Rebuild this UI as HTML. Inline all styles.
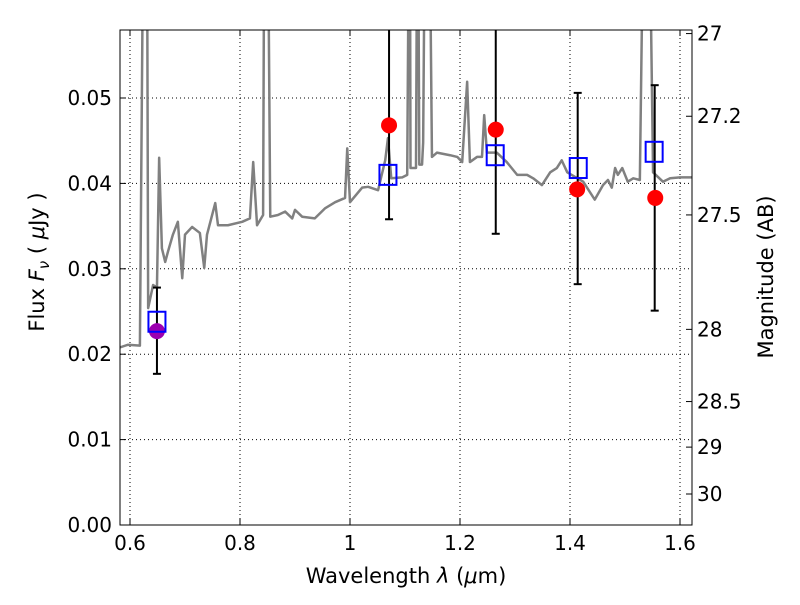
<!DOCTYPE html>
<html><head><meta charset="utf-8"><style>
body{margin:0;background:#fff;}
svg text{font-family:"DejaVu Sans","Liberation Sans",sans-serif;fill:#000;}
</style></head><body>
<svg id="chart" width="800" height="600" xmlns="http://www.w3.org/2000/svg">
<rect width="800" height="600" fill="#fff"/>
<defs><clipPath id="clip"><rect x="120" y="30" width="572" height="495"/></clipPath></defs>
<g id="grid"></g>
<g id="spec" clip-path="url(#clip)"></g>
<g id="marks" clip-path="url(#clip)"></g>
<rect x="120" y="30" width="572" height="495" fill="none" stroke="#000" stroke-width="1"/>
<g id="axes"></g>
<text x="406" y="583" font-size="21" text-anchor="middle">Wavelength  <tspan font-style="italic">λ</tspan> (<tspan font-style="italic">μ</tspan>m)</text>
<text transform="translate(44,262) rotate(-90)" font-size="21" text-anchor="middle">Flux  <tspan font-style="italic">F</tspan><tspan font-style="italic" font-size="15" dy="5">ν</tspan><tspan dy="-5">  (  </tspan><tspan font-style="italic">μ</tspan>Jy )</text>
<text transform="translate(773,277) rotate(-90)" font-size="21" text-anchor="middle">Magnitude (AB)</text>
</svg>
<script>
const xTicks=[0.6,0.8,1.0,1.2,1.4,1.6];
const xTickLabels=["0.6","0.8","1","1.2","1.4","1.6"];
const yTicks=[0,0.01,0.02,0.03,0.04,0.05];
const yTickLabels=["0.00","0.01","0.02","0.03","0.04","0.05"];
const magTicks=[27,27.2,27.5,28,28.5,29,30];
const magTickLabels=["27","27.2","27.5","28","28.5","29","30"];
const specLam=[0.582,0.596,0.618,0.624,0.631,0.633,0.642,0.649,0.653,0.658,0.664,0.669,0.678,0.687,0.695,0.700,0.713,0.727,0.735,0.740,0.755,0.760,0.778,0.804,0.818,0.824,0.831,0.842,0.844,0.851,0.855,0.869,0.882,0.895,0.900,0.913,0.936,0.955,0.973,0.991,0.995,1.000,1.022,1.033,1.051,1.064,1.069,1.075,1.095,1.104,1.107,1.109,1.110,1.120,1.122,1.124,1.126,1.131,1.133,1.136,1.145,1.149,1.158,1.182,1.195,1.204,1.213,1.218,1.231,1.240,1.244,1.249,1.267,1.285,1.304,1.322,1.333,1.349,1.364,1.376,1.385,1.395,1.424,1.445,1.460,1.469,1.476,1.482,1.487,1.495,1.505,1.515,1.527,1.533,1.545,1.551,1.569,1.582,1.600,1.622];
const specFlux=[.0208,.0211,.0210,.07,.07,.0254,.0281,.0278,.0430,.0324,.0308,.0320,.0340,.0355,.0289,.0340,.0349,.0342,.0301,.0340,.0377,.0351,.0351,.0355,.0359,.0425,.0351,.0363,.07,.07,.0361,.0363,.0367,.0359,.0369,.0361,.0359,.0371,.0378,.0383,.0441,.0378,.0395,.0396,.0392,.0427,.0453,.0406,.0407,.0410,.07,.07,.0418,.0418,.07,.07,.0422,.0422,.0448,.07,.07,.0431,.0436,.0433,.0431,.0425,.0519,.0425,.0431,.0431,.0480,.0436,.0436,.0425,.0410,.0410,.0406,.0398,.0413,.0418,.0427,.0413,.0402,.0381,.0398,.0404,.0395,.0418,.0410,.0418,.0402,.0406,.0404,.07,.07,.0413,.0402,.0406,.0407,.0407];
const modelLam=[0.649,1.069,1.264,1.415,1.553];
const modelFlux=[0.0238,0.0410,0.0433,0.0418,0.0437];
const obsLam=[1.071,1.265,1.413,1.555];
const obsFlux=[0.0468,0.0463,0.0393,0.0383];
const purpleLam=[0.649];
const purpleFlux=[0.0227];
const errLam=[0.649,1.071,1.265,1.414,1.554];
const errLo=[0.0177,0.0358,0.0341,0.0282,0.0251];
const errHi=[0.0278,0.065,0.065,0.0506,0.0515];

const X=v=>130+(v-0.6)*550;
const Y=v=>525-v*8540;
const NS="http://www.w3.org/2000/svg";
function mk(t,a,p){const e=document.createElementNS(NS,t);for(const k in a)e.setAttribute(k,a[k]);p.appendChild(e);return e;}
const grid=document.getElementById('grid'),axes=document.getElementById('axes');
xTicks.forEach((v,i)=>{const x=X(v);
 const g=mk('line',{x1:x,x2:x,y1:30,y2:525,stroke:'#000','stroke-dasharray':'1,3','stroke-width':1},grid);
 
 mk('line',{x1:x,x2:x,y1:525,y2:519,stroke:'#000'},axes);
 mk('line',{x1:x,x2:x,y1:30,y2:36,stroke:'#000'},axes);
 const t=mk('text',{x:x,y:550,'font-size':20,'text-anchor':'middle'},axes);t.textContent=xTickLabels[i];
 });
yTicks.forEach((v,i)=>{const y=Y(v);
 const g=mk('line',{x1:120,x2:692,y1:y,y2:y,stroke:'#000','stroke-dasharray':'1,3','stroke-width':1},grid);
 
 mk('line',{x1:120,x2:126,y1:y,y2:y,stroke:'#000'},axes);
 const t=mk('text',{x:112,y:y+7,'font-size':20,'text-anchor':'end'},axes);t.textContent=yTickLabels[i];
 });
magTicks.forEach((m,i)=>{const f=Math.pow(10,(23.9-m)/2.5);const y=Y(f);
 mk('line',{x1:686,x2:692,y1:y,y2:y,stroke:'#000'},axes);
 const t=mk('text',{x:697,y:y+7,'font-size':20},axes);t.textContent=magTickLabels[i];
 });
const spec=document.getElementById('spec');
const pl=mk('polyline',{points:specLam.map((l,i)=>X(l)+','+Y(specFlux[i])).join(' '),fill:'none',stroke:'#808080','stroke-width':2.5,'stroke-linejoin':'round'},spec);

const marks=document.getElementById('marks');
errLam.forEach((l,i)=>{const x=X(l),y1=Y(errHi[i]),y2=Y(errLo[i]);
 const e=mk('line',{x1:x,x2:x,y1:y1,y2:y2,stroke:'#000','stroke-width':2},marks);
 
 mk('line',{x1:x-4,x2:x+4,y1:y1,y2:y1,stroke:'#000','stroke-width':2},marks);
 mk('line',{x1:x-4,x2:x+4,y1:y2,y2:y2,stroke:'#000','stroke-width':2},marks);});
obsLam.forEach((l,i)=>{const c=mk('circle',{cx:X(l),cy:Y(obsFlux[i]),r:8,fill:'#ff0000'},marks);
 });
purpleLam.forEach((l,i)=>{const c=mk('circle',{cx:X(l),cy:Y(purpleFlux[i]),r:8,fill:'#9c00b0'},marks);
 });
modelLam.forEach((l,i)=>{const r=mk('rect',{x:X(l)-8.5,y:Y(modelFlux[i])-10,width:17,height:20,fill:'none',stroke:'#0000ff','stroke-width':2},marks);
 });
</script>
</body></html>
